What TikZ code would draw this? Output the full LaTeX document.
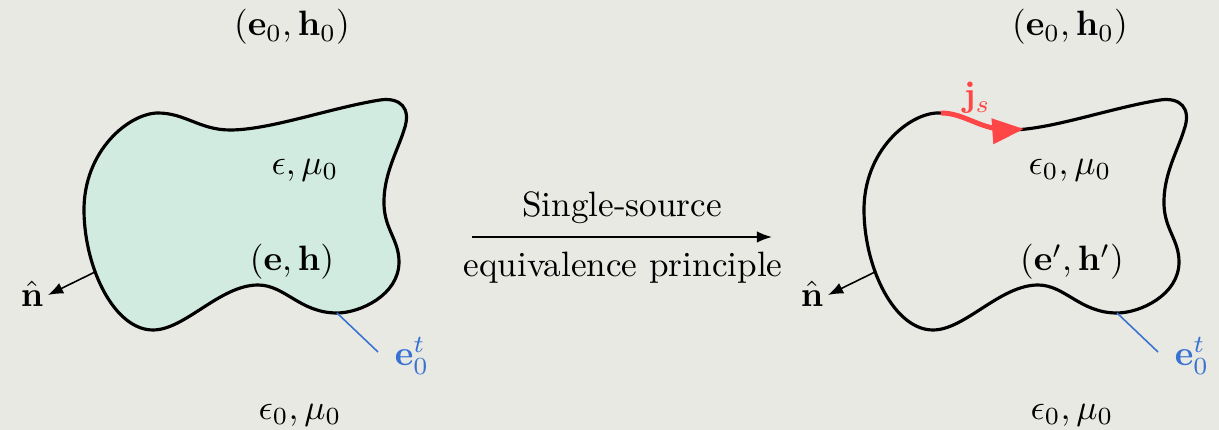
\documentclass[tikz,border=0pt]{standalone}
\usepackage{amsmath}
\usetikzlibrary{arrows.meta}
\definecolor{bg}{HTML}{E9E9E4}
\definecolor{fillc}{HTML}{D1EBE0}
\definecolor{bluec}{HTML}{3A72D2}
\definecolor{redc}{HTML}{FF4646}
\tikzset{
  lbl/.style={inner sep=0pt},
  bound/.style={line width=0.9pt, line join=round},
  nrm/.style={line width=0.45pt, -{Latex[length=4.3pt,width=3.3pt]}},
  tang/.style={bluec, line width=0.45pt},
}
\def\blob{(158,113) .. controls (185,113) and (200,130) .. (230,130)
  .. controls (270,130) and (330,108) .. (380,100)
  .. controls (400,97) and (412,108) .. (404,130)
  .. controls (398,150) and (383,175) .. (384,205)
  .. controls (385,230) and (399,240) .. (399,262)
  .. controls (399,295) and (360,313) .. (337,313)
  .. controls (300,313) and (285,285) .. (258,285)
  .. controls (220,285) and (185,330) .. (153,330)
  .. controls (115,330) and (85,270) .. (84,212)
  .. controls (83,150) and (130,113) .. (158,113) -- cycle}
\begin{document}
\begin{tikzpicture}[x=0.284pt,y=-0.284pt]
\fill[bg] (0,0) rectangle (1219,430);
\useasboundingbox (0,0) rectangle (1219,430);
% left shape
\draw[bound, fill=fillc] \blob;
% right shape
\begin{scope}[shift={(780,0)}]
\draw[bound] \blob;
% red current
\draw[redc, line width=1.4pt, -{Triangle[length=9pt,width=7pt]}] (161,113) .. controls (185,113) and (200,130) .. (230,130) -- (244,129);
\end{scope}
% labels
\node[lbl] (t1) at (292,27) {$(\mathbf{e}_0,\mathbf{h}_0)$};
\node[lbl] (t2) at (1070,27) {$(\mathbf{e}_0,\mathbf{h}_0)$};
\node[lbl] (m1) at (305,170) {$\epsilon,\mu_0$};
\node[lbl] (m2) at (1070,170) {$\epsilon_0,\mu_0$};
\node[lbl] (f1) at (292,262) {$(\mathbf{e},\mathbf{h})$};
\node[lbl] (f2) at (1072,262) {$(\mathbf{e}',\mathbf{h}')$};
\node[lbl] (b1) at (300,415) {$\epsilon_0,\mu_0$};
\node[lbl] (b2) at (1072,415) {$\epsilon_0,\mu_0$};
\node[lbl, redc] (js) at (977,98) {$\mathbf{j}_s$};
% normals
\node[lbl] (n1) at (32,294) {$\hat{\mathbf{n}}$};
\node[lbl] (n2) at (812,294) {$\hat{\mathbf{n}}$};
\coordinate (p1) at (95,272);
\coordinate (p2) at (875,272);
\coordinate (a1) at (48,295);
\coordinate (a2) at (828,295);
\draw[nrm] (p1) -- (a1);
\draw[nrm] (p2) -- (a2);
% tangential e
\node[lbl, bluec] (e1) at (412,356) {$\mathbf{e}_0^t$};
\node[lbl, bluec] (e2) at (1192,356) {$\mathbf{e}_0^t$};
\coordinate (q1) at (337,313);
\coordinate (q2) at (1117,313);
\coordinate (r1) at (378,352);
\coordinate (r2) at (1158,352);
\draw[tang] (q1) -- (r1);
\draw[tang] (q2) -- (r2);
% middle arrow
\node[lbl] (s1) at (622,208) {Single-source};
\node[lbl] (s2) at (623,268) {equivalence principle};
\coordinate (aa) at (472,237);
\coordinate (ab) at (772,237);
\draw[nrm, line width=0.55pt] (aa) -- (ab);
\end{tikzpicture}
\end{document}
